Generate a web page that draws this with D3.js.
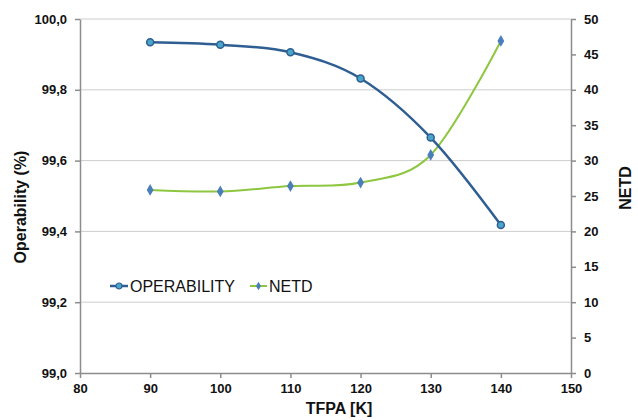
<!DOCTYPE html>
<html lang="en">
<head>
    <meta charset="UTF-8">
    <title>Operability and NETD vs TFPA</title>
    <script src="https://d3js.org/d3.v7.min.js"></script>
    <style>
        body {
            margin: 0;
            padding: 0;
            background-color: #fff;
            font-family: Arial, "Liberation Sans", sans-serif;
        }
        .axis path,
        .axis line {
            stroke: #8c8c8c;
        }
        .axis text {
            font-size: 13px;
            font-weight: bold;
            fill: #111;
        }
        .grid line {
            stroke: #cdcdcd;
        }
        .title {
            font-weight: bold;
            font-size: 16px;
            fill: #111;
        }
    </style>
</head>
<body>
    <div id="chart"></div>

    <script>
        // data
        const tfpa = [90, 100, 110, 120, 130, 140];
        const operability = [99.934, 99.927, 99.906, 99.832, 99.665, 99.418];
        const netd = [25.85, 25.65, 26.4, 26.9, 30.8, 46.9];

        const xTicks = [80, 90, 100, 110, 120, 130, 140, 150];
        const yLeftTicks = [99.0, 99.2, 99.4, 99.6, 99.8, 100.0];
        const yRightTicks = [0, 5, 10, 15, 20, 25, 30, 35, 40, 45, 50];

        const W = 638, H = 420;
        const margin = {top: 19, right: 67, bottom: 47, left: 80};
        const width = W - margin.left - margin.right;
        const height = H - margin.top - margin.bottom;

        const svg = d3.select("#chart").append("svg")
            .attr("width", W)
            .attr("height", H);

        const g = svg.append("g")
            .attr("transform", `translate(${margin.left}, ${margin.top})`);

        const x = d3.scaleLinear().domain([80, 150]).range([0, width]);
        const yL = d3.scaleLinear().domain([99, 100]).range([height, 0]);
        const yR = d3.scaleLinear().domain([0, 50]).range([height, 0]);

        const comma = d => d.toFixed(1).replace(".", ",");

        // horizontal grid lines
        g.append("g")
            .attr("class", "grid")
            .selectAll("line")
            .data(yLeftTicks.slice(1))
            .join("line")
            .attr("x1", 0)
            .attr("x2", width)
            .attr("y1", d => yL(d))
            .attr("y2", d => yL(d));

        g.append("g")
            .attr("class", "axis")
            .attr("transform", `translate(0, ${height})`)
            .call(d3.axisBottom(x).tickValues(xTicks).tickSize(5).tickSizeOuter(0).tickPadding(6))
            .selectAll("path, line").attr("stroke-width", 1.5);

        g.append("g")
            .attr("class", "axis")
            .call(d3.axisLeft(yL).tickValues(yLeftTicks).tickFormat(comma).tickSize(5).tickSizeOuter(0).tickPadding(8))
            .selectAll("path, line").attr("stroke-width", 1.5);

        g.append("g")
            .attr("class", "axis")
            .attr("transform", `translate(${width}, 0)`)
            .call(d3.axisRight(yR).tickValues(yRightTicks).tickSize(5).tickSizeOuter(0).tickPadding(8))
            .selectAll("path, line").attr("stroke-width", 1.5);

        const curve = d3.curveCatmullRom.alpha(0);

        const opLine = d3.line()
            .x((d, i) => x(tfpa[i]))
            .y(d => yL(d))
            .curve(curve);

        const netdLine = d3.line()
            .x((d, i) => x(tfpa[i]))
            .y(d => yR(d))
            .curve(curve);

        const opColor = "#2f5e93";
        const netdColor = "#8dc63f";

        g.append("path")
            .datum(netd)
            .attr("fill", "none")
            .attr("stroke", netdColor)
            .attr("stroke-width", 2)
            .attr("d", netdLine);

        g.append("path")
            .datum(operability)
            .attr("fill", "none")
            .attr("stroke", opColor)
            .attr("stroke-width", 2.5)
            .attr("d", opLine);

        const diamond = d3.symbol().type(d3.symbolDiamond).size(40);

        g.selectAll(".netd-pt")
            .data(netd)
            .join("path")
            .attr("class", "netd-pt")
            .attr("transform", (d, i) => `translate(${x(tfpa[i])}, ${yR(d)})`)
            .attr("d", diamond)
            .attr("fill", "#4a7ebb");

        g.selectAll(".op-pt")
            .data(operability)
            .join("circle")
            .attr("class", "op-pt")
            .attr("cx", (d, i) => x(tfpa[i]))
            .attr("cy", d => yL(d))
            .attr("r", 3.5)
            .attr("fill", "#4aa6c9")
            .attr("stroke", opColor)
            .attr("stroke-width", 1.5);

        // legend
        const legend = svg.append("g").attr("transform", "translate(110, 286)");
        legend.append("line").attr("x1", 0).attr("x2", 18).attr("stroke", opColor).attr("stroke-width", 2.5);
        legend.append("circle").attr("cx", 9).attr("r", 3).attr("fill", "#4aa6c9").attr("stroke", opColor).attr("stroke-width", 1.2);
        legend.append("text").attr("x", 20).attr("y", 6).attr("font-size", 16).attr("fill", "#111").text("OPERABILITY");

        legend.append("line").attr("x1", 140).attr("x2", 157).attr("stroke", netdColor).attr("stroke-width", 2);
        legend.append("path").attr("transform", "translate(148.5, 0)").attr("d", d3.symbol().type(d3.symbolDiamond).size(22)).attr("fill", "#4a7ebb");
        legend.append("text").attr("x", 159).attr("y", 6).attr("font-size", 16).attr("fill", "#111").text("NETD");

        // axis titles
        svg.append("text")
            .attr("class", "title")
            .attr("transform", "translate(26, 207) rotate(-90)")
            .attr("text-anchor", "middle")
            .text("Operability (%)");

        svg.append("text")
            .attr("class", "title")
            .attr("transform", "translate(631, 188) rotate(-90)")
            .attr("text-anchor", "middle")
            .text("NETD");

        svg.append("text")
            .attr("class", "title")
            .attr("x", 339)
            .attr("y", 414)
            .attr("text-anchor", "middle")
            .attr("font-size", 17)
            .text("TFPA [K]");
    </script>
</body>
</html>
